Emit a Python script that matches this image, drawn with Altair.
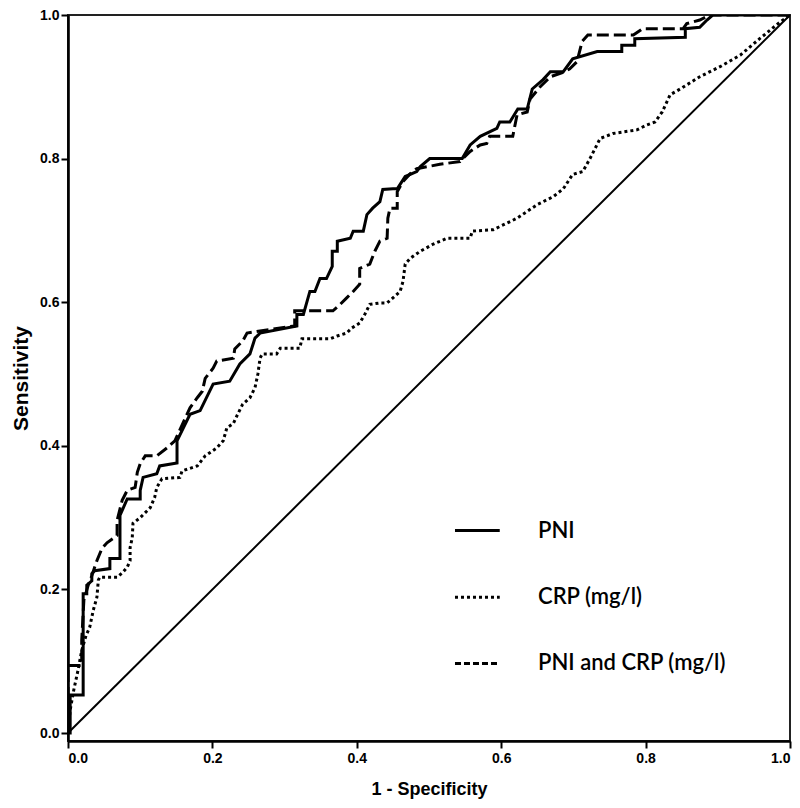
import altair as alt
import pandas as pd

# ---- data ----
pni_x = [0.0, 0.003, 0.003, 0.021, 0.021, 0.026, 0.026, 0.033, 0.033, 0.037, 0.058, 0.058, 0.072, 0.072,
         0.082, 0.100, 0.100, 0.104, 0.123, 0.127, 0.151, 0.151, 0.169, 0.183, 0.201, 0.224, 0.238, 0.252,
         0.259, 0.266, 0.317, 0.317, 0.326, 0.335, 0.342, 0.349, 0.358, 0.366, 0.366, 0.373, 0.373, 0.391,
         0.395, 0.409, 0.414, 0.422, 0.432, 0.436, 0.450, 0.456, 0.467, 0.483, 0.488, 0.501, 0.546, 0.557,
         0.571, 0.594, 0.598, 0.612, 0.623, 0.636, 0.643, 0.658, 0.668, 0.686, 0.699, 0.733, 0.767, 0.767,
         0.785, 0.785, 0.855, 0.855, 0.875, 0.885, 0.893, 1.0]
pni_y = [0.0, 0.0, 0.053, 0.053, 0.194, 0.194, 0.206, 0.212, 0.222, 0.226, 0.229, 0.243, 0.243, 0.303,
         0.326, 0.326, 0.338, 0.356, 0.361, 0.372, 0.376, 0.407, 0.444, 0.449, 0.486, 0.490, 0.514, 0.528,
         0.550, 0.557, 0.567, 0.583, 0.583, 0.615, 0.615, 0.633, 0.633, 0.650, 0.671, 0.671, 0.685, 0.689,
         0.699, 0.699, 0.722, 0.731, 0.740, 0.757, 0.758, 0.758, 0.775, 0.782, 0.789, 0.800, 0.800, 0.819,
         0.831, 0.842, 0.851, 0.851, 0.869, 0.869, 0.897, 0.910, 0.921, 0.921, 0.939, 0.949, 0.949, 0.958,
         0.958, 0.967, 0.969, 0.981, 0.983, 0.993, 1.0, 1.0]

crp_x = [0.0, 0.003, 0.008, 0.014, 0.019, 0.025, 0.030, 0.035, 0.040, 0.042, 0.044, 0.068, 0.076, 0.082,
         0.086, 0.086, 0.089, 0.090, 0.100, 0.114, 0.120, 0.123, 0.130, 0.155, 0.158, 0.179, 0.190, 0.206,
         0.215, 0.220, 0.229, 0.235, 0.242, 0.252, 0.259, 0.263, 0.266, 0.269, 0.289, 0.294, 0.321, 0.324,
         0.363, 0.373, 0.386, 0.393, 0.404, 0.411, 0.418, 0.432, 0.442, 0.460, 0.464, 0.467, 0.474, 0.488,
         0.506, 0.525, 0.557, 0.560, 0.589, 0.622, 0.650, 0.672, 0.686, 0.699, 0.713, 0.723, 0.737, 0.755,
         0.788, 0.802, 0.813, 0.823, 0.834, 0.848, 0.875, 0.903, 0.931, 0.958, 0.986, 1.0]
crp_y = [0.0, 0.032, 0.060, 0.088, 0.115, 0.136, 0.147, 0.171, 0.189, 0.213, 0.217, 0.217, 0.224, 0.231,
         0.240, 0.258, 0.272, 0.292, 0.300, 0.314, 0.328, 0.342, 0.354, 0.356, 0.365, 0.372, 0.386, 0.397,
         0.407, 0.425, 0.431, 0.444, 0.458, 0.467, 0.481, 0.500, 0.522, 0.528, 0.528, 0.536, 0.536, 0.549,
         0.549, 0.553, 0.557, 0.564, 0.571, 0.583, 0.597, 0.599, 0.599, 0.615, 0.629, 0.653, 0.661, 0.671,
         0.681, 0.689, 0.689, 0.699, 0.701, 0.717, 0.736, 0.747, 0.758, 0.778, 0.782, 0.800, 0.828, 0.835,
         0.840, 0.847, 0.851, 0.865, 0.889, 0.897, 0.914, 0.928, 0.944, 0.967, 0.990, 1.0]

both_x = [0.0, 0.0, 0.019, 0.019, 0.022, 0.028, 0.033, 0.040, 0.047, 0.054, 0.068, 0.068, 0.075, 0.082,
          0.093, 0.096, 0.100, 0.107, 0.123, 0.137, 0.148, 0.169, 0.179, 0.186, 0.190, 0.201, 0.206, 0.229,
          0.231, 0.242, 0.248, 0.266, 0.314, 0.314, 0.367, 0.377, 0.386, 0.395, 0.404, 0.404, 0.418, 0.425,
          0.432, 0.442, 0.443, 0.446, 0.456, 0.456, 0.464, 0.474, 0.483, 0.515, 0.543, 0.557, 0.571, 0.580,
          0.584, 0.616, 0.622, 0.636, 0.640, 0.654, 0.668, 0.688, 0.695, 0.705, 0.712, 0.720, 0.783, 0.796,
          0.852, 0.857, 0.875, 0.889, 1.0]
both_y = [0.0, 0.094, 0.094, 0.129, 0.185, 0.206, 0.219, 0.240, 0.257, 0.265, 0.275, 0.296, 0.324, 0.338,
          0.342, 0.363, 0.375, 0.386, 0.386, 0.397, 0.407, 0.453, 0.467, 0.476, 0.494, 0.508, 0.518, 0.522,
          0.535, 0.546, 0.557, 0.560, 0.567, 0.588, 0.588, 0.597, 0.606, 0.615, 0.625, 0.647, 0.653, 0.671,
          0.685, 0.689, 0.717, 0.731, 0.731, 0.754, 0.768, 0.779, 0.786, 0.792, 0.796, 0.810, 0.819, 0.821,
          0.831, 0.831, 0.861, 0.865, 0.883, 0.900, 0.914, 0.921, 0.925, 0.935, 0.963, 0.972, 0.972, 0.981,
          0.981, 0.988, 0.993, 1.0, 1.0]

ref_x = [0.0, 1.0]
ref_y = [0.0, 1.0]

legend_labels = ["PNI", "CRP (mg/l)", "PNI and CRP (mg/l)"]

# ---- styling / layout ----
W, H = 722, 726
XDOM = [0.0, 1.0]
YDOM = [-0.0111, 1.0]
tick_font = "'Liberation Sans Narrow', 'Liberation Sans', Arial, sans-serif"
legend_font = "Lato, 'Open Sans', sans-serif"

xs = alt.Scale(domain=XDOM, nice=False, zero=False)
ys = alt.Scale(domain=YDOM, nice=False, zero=False)


def series_df(xv, yv):
    return pd.DataFrame({"x": xv, "y": yv, "o": list(range(len(xv)))})


def curve(df, dash, width=3):
    kw = dict(color="black", strokeWidth=width, clip=True)
    if dash:
        kw["strokeDash"] = dash
    return alt.Chart(df).mark_line(**kw).encode(
        x=alt.X("x:Q", scale=xs),
        y=alt.Y("y:Q", scale=ys),
        order="o:Q",
    )


base_axes = alt.Chart(series_df(ref_x, ref_y)).mark_line(color="black", strokeWidth=2).encode(
    x=alt.X("x:Q", scale=xs, title="1 - Specificity",
            axis=alt.Axis(values=[0, 0.2, 0.4, 0.6, 0.8, 1.0], format=".1f", grid=False,
                          titleFontSize=18, titlePadding=15)),
    y=alt.Y("y:Q", scale=ys, title="Sensitivity",
            axis=alt.Axis(values=[0, 0.2, 0.4, 0.6, 0.8, 1.0], format=".1f", grid=False,
                          titleFontSize=21, titlePadding=8)),
    order="o:Q",
)

pni = curve(series_df(pni_x, pni_y), None)
crp = curve(series_df(crp_x, crp_y), [3, 3])
both = curve(series_df(both_x, both_y), [12, 5])

# manual legend inside the plot
leg_y = [0.282, 0.189, 0.097]
leg_df = pd.DataFrame({
    "label": legend_labels,
    "y": leg_y,
    "x1": [0.536] * 3,
    "x2": [0.598] * 3,
    "tx": [0.651] * 3,
})
leg_pni = alt.Chart(leg_df.iloc[[0]]).mark_rule(color="black", strokeWidth=3).encode(
    x=alt.X("x1:Q", scale=xs), x2="x2:Q", y=alt.Y("y:Q", scale=ys))
leg_crp = alt.Chart(leg_df.iloc[[1]]).mark_rule(color="black", strokeWidth=3, strokeDash=[3, 3]).encode(
    x=alt.X("x1:Q", scale=xs), x2="x2:Q", y=alt.Y("y:Q", scale=ys))
leg_both = alt.Chart(leg_df.iloc[[2]]).mark_rule(color="black", strokeWidth=3, strokeDash=[6, 3]).encode(
    x=alt.X("x1:Q", scale=xs), x2="x2:Q", y=alt.Y("y:Q", scale=ys))
leg_text = alt.Chart(leg_df).mark_text(align="left", baseline="middle", font=legend_font,
                                       fontSize=22, fontWeight=600, color="black").encode(
    x=alt.X("tx:Q", scale=xs), y=alt.Y("y:Q", scale=ys), text="label:N")

chart = alt.layer(base_axes, crp, both, pni, leg_pni, leg_crp, leg_both, leg_text).properties(
    width=W, height=H,
    autosize=alt.AutoSizeParams(type="none"),
    padding={"left": 60, "top": 7, "right": 2, "bottom": 59},
).configure_view(
    stroke="#222222", strokeWidth=2,
).configure_axis(
    domainColor="black", domainWidth=2.6,
    tickColor="black", tickWidth=2, tickSize=7,
    labelFont=tick_font, labelFontWeight="bold", labelFontSize=14, labelColor="black",
    titleFont=tick_font, titleFontWeight="bold", titleColor="black",
).configure_axisX(
    labelPadding=3,
).configure_axisY(
    labelPadding=2,
)

chart.save("out.html", embed_options={"renderer": "svg", "actions": False})
